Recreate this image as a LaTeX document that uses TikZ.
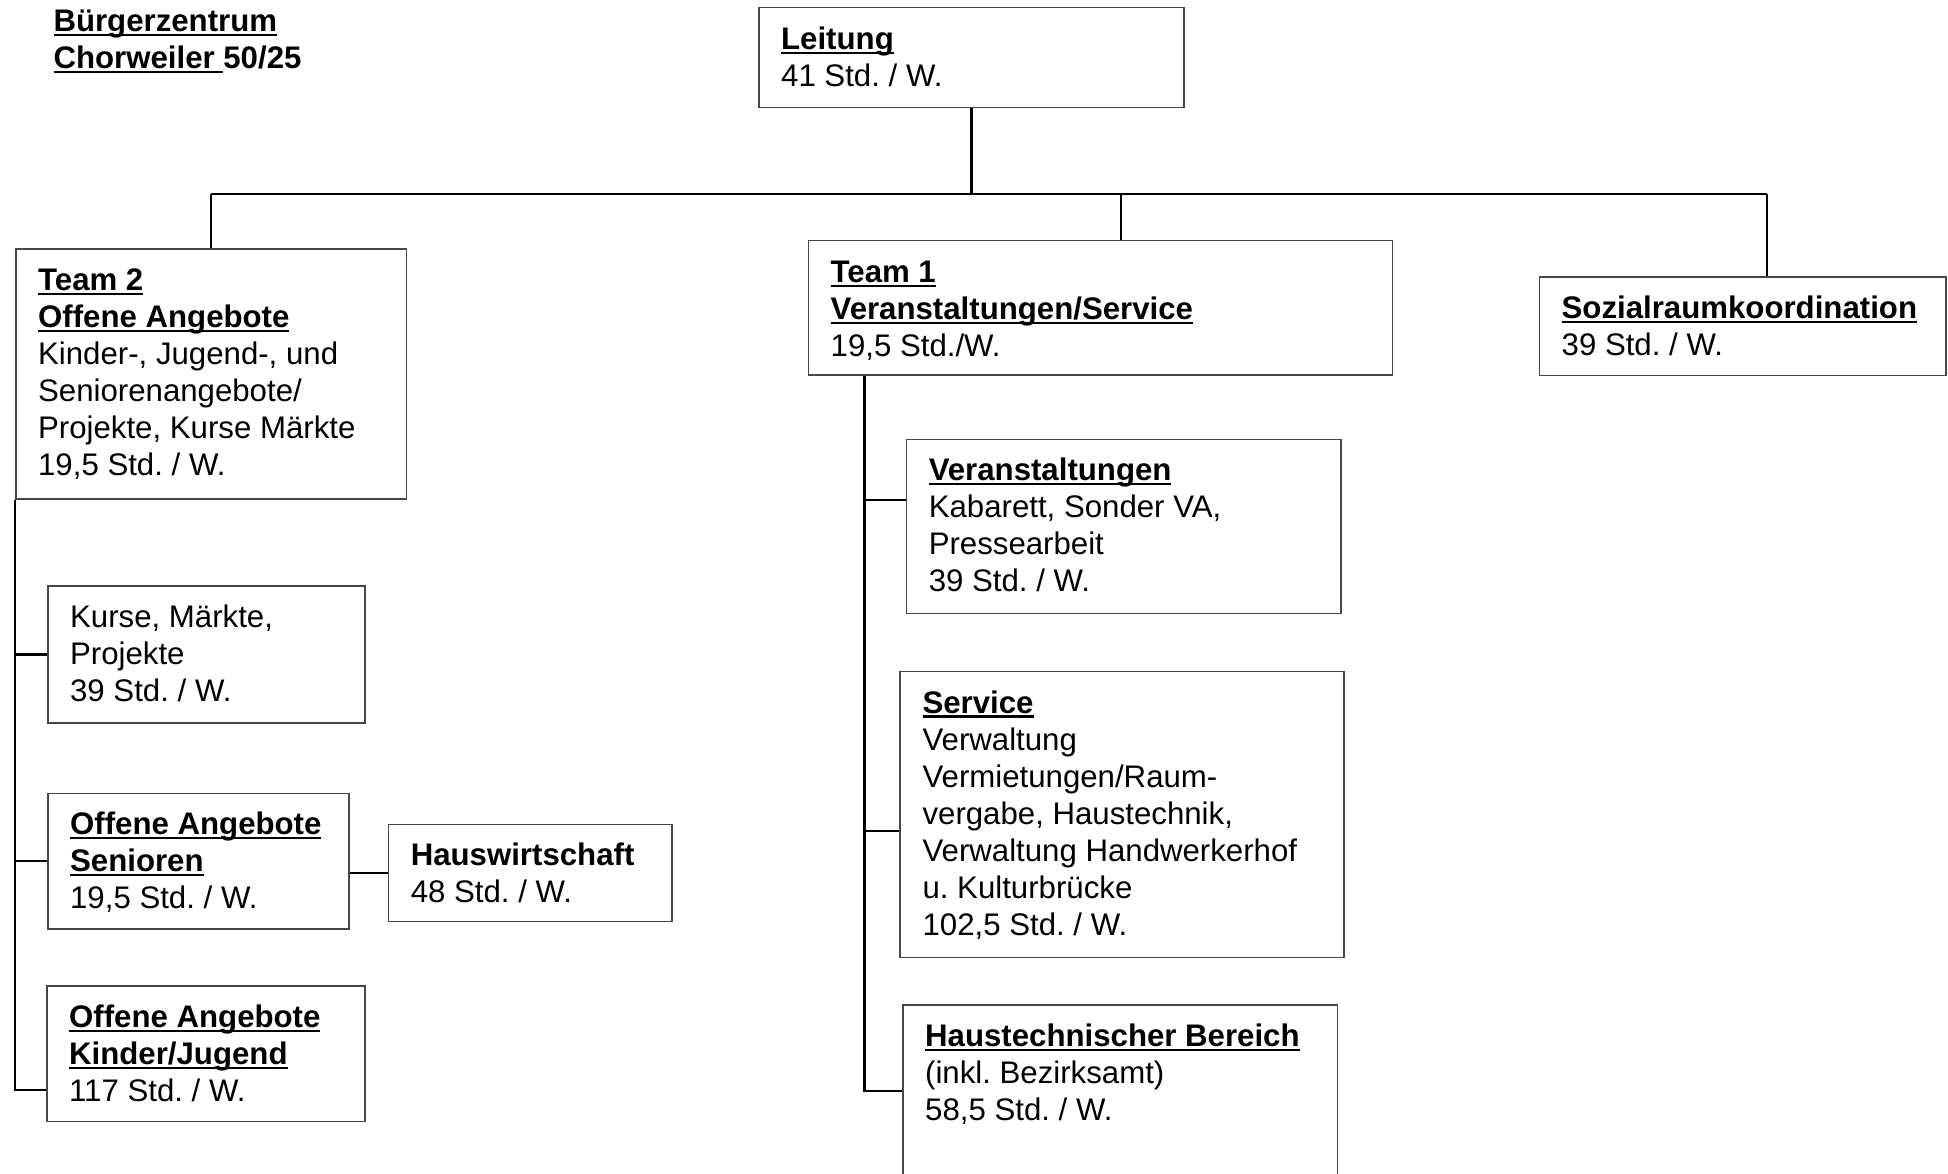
\documentclass[tikz,border=0pt]{standalone}
\usepackage{fontspec}
\setmainfont{Liberation Sans}
\frenchspacing
\newcommand\ulin[1]{\leavevmode\setbox0\hbox{#1}\rlap{\rule[-4.6pt]{\wd0}{2.3pt}}\box0\relax}
\newcommand\orgbox[6]{%
  \node[obox, anchor=north west, minimum width=#4pt, minimum height=#5pt] (#1) at (#2,-#3)
   {\parbox[c][#5pt][t]{#4pt}{\frenchspacing\raggedright\leftskip=22.4pt\rule{0pt}{41.5pt}\ignorespaces#6}};}
\tikzset{
  obox/.style={draw=black!72, line width=1.5pt, inner sep=0pt, rectangle},
  conn/.style={line width=2.6pt, black, line join=miter}
}
\begin{document}
\begin{tikzpicture}[x=1pt, y=1pt, font=\fontsize{31.2}{37}\selectfont]
\path[use as bounding box] (0,0) rectangle (1948,-1174);
\clip (0,0) rectangle (1948,-1174);

% title
\node[anchor=base west, inner sep=0pt, font=\fontsize{31.2}{37}\selectfont\bfseries] (title) at (53.3,-31.7)
  {\parbox[t]{400pt}{\ulin{Bürgerzentrum}\\\ulin{Chorweiler }50/25}};

% boxes
\orgbox{leit}{758}{7}{425}{100}{\ulin{\bfseries Leitung}\\41 Std. / W.}
\orgbox{t2}{15}{248.5}{390.5}{249.5}{\ulin{\bfseries Team 2}\\\ulin{\bfseries Offene Angebote}\\Kinder-, Jugend-, und\\Seniorenangebote/\\Projekte, Kurse Märkte\\19,5 Std. / W.}
\orgbox{t1}{807.5}{240}{584}{134}{\ulin{\bfseries Team 1}\\\ulin{\bfseries Veranstaltungen/Service}\\19,5 Std./W.}
\orgbox{soz}{1538.5}{276.5}{406.5}{98}{\ulin{\bfseries Sozialraumkoordination}\\39 Std. / W.}
\orgbox{va}{905.6}{438.5}{434.8}{174}{\ulin{\bfseries Veranstaltungen}\\Kabarett, Sonder VA,\\Pressearbeit\\39 Std. / W.}
\orgbox{srv}{899.4}{670.8}{443.6}{285.8}{\ulin{\bfseries Service}\\Verwaltung\\Vermietungen/Raum-\\vergabe, Haustechnik,\\Verwaltung Handwerkerhof\\u. Kulturbrücke\\102,5 Std. / W.}
\orgbox{ht}{902}{1004}{434.7}{200}{\ulin{\bfseries Haustechnischer Bereich}\\(inkl. Bezirksamt)\\58,5 Std. / W.}
\orgbox{kurse}{47}{585}{317}{137}{Kurse, Märkte,\\Projekte\\39 Std. / W.}
\orgbox{sen}{47}{792.6}{301}{135.4}{\ulin{\bfseries Offene Angebote}\\\ulin{\bfseries Senioren}\\19,5 Std. / W.}
\orgbox{hw}{387.6}{823.6}{283.4}{97}{{\bfseries Hauswirtschaft}\\48 Std. / W.}
\orgbox{kj}{46}{985}{318}{135.6}{\ulin{\bfseries Offene Angebote}\\\ulin{\bfseries Kinder/Jugend}\\117 Std. / W.}

% connectors
\coordinate (busy) at (0,-194);
\coordinate (sozd) at (1767,-194);
\coordinate (t1d) at (1121,-194);
\draw[conn] (leit.south) -- (leit.south |- busy);
\draw[conn] (t2.north |- busy) -- (sozd);
\draw[conn] (t2.north |- busy) -- (t2.north);
\draw[conn] (t1d) -- (t1d |- t1.north);
\draw[conn] (sozd) -- (sozd |- soz.north);

\coordinate (t2sp) at (15,-1090);
\draw[conn] (t2.south west) -- (t2sp) -- (t2sp -| kj.west);
\draw[conn] (kurse.west -| t2sp) -- (kurse.west);
\draw[conn] (sen.west -| t2sp) -- (sen.west);
\draw[conn] (sen.east |- hw.west) -- (hw.west);

\coordinate (t1sp) at (864.6,-1091);
\coordinate (bva) at (864.6,-500);
\coordinate (bsrv) at (864.6,-831);
\draw[conn] (t1sp |- t1.south) -- (t1sp) -- (t1sp -| ht.west);
\draw[conn] (bva) -- (bva -| va.west);
\draw[conn] (bsrv) -- (bsrv -| srv.west);
\end{tikzpicture}
\end{document}
